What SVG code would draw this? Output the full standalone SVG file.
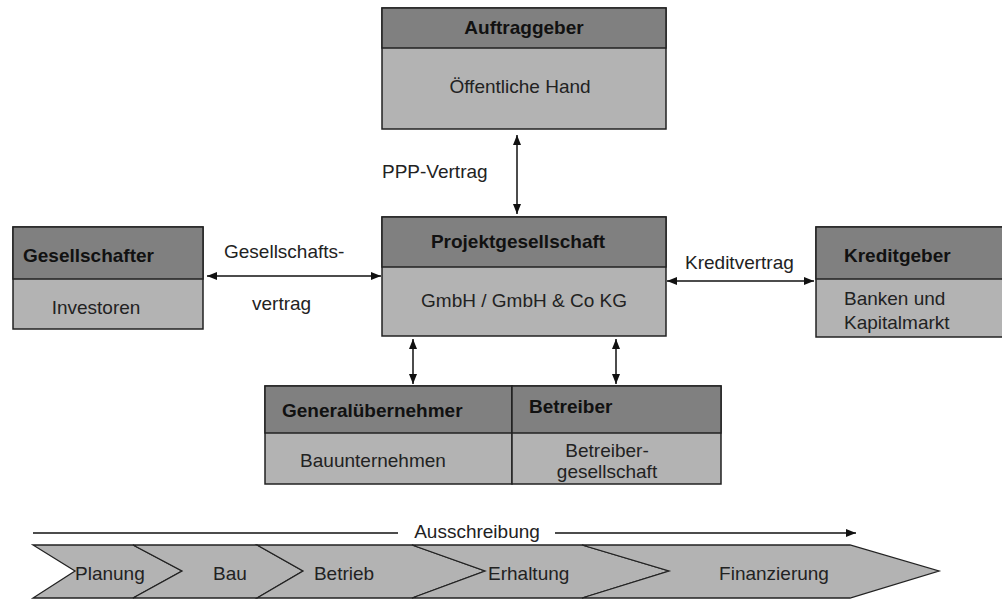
<svg xmlns="http://www.w3.org/2000/svg" width="1002" height="599" viewBox="0 0 1002 599">
<style>
.hd{fill:#808080;stroke:#222;stroke-width:1.5}
.bd{fill:#b3b3b3;stroke:#222;stroke-width:1.5}
.ht{font-family:"Liberation Sans",Arial,sans-serif;font-size:19px;font-weight:bold;fill:#111}
.bt{font-family:"Liberation Sans",Arial,sans-serif;font-size:19px;fill:#222}
.ln{stroke:#111;stroke-width:1.5;fill:none}
.ch{fill:#b3b3b3;stroke:#222;stroke-width:1.3}
</style>
<defs>
<marker id="ah" viewBox="0 0 10 8" refX="10" refY="4" markerWidth="10" markerHeight="8" markerUnits="userSpaceOnUse" orient="auto-start-reverse">
<path d="M0,0 L10,4 L0,8 z" fill="#111"/>
</marker>
</defs>
<rect width="1002" height="599" fill="#fff"/>

<g id="auftraggeber">
<rect class="bd" x="382" y="8" width="284" height="121"/>
<rect class="hd" x="382" y="8" width="284" height="40"/>
<text class="ht" x="524" y="34" text-anchor="middle">Auftraggeber</text>
<text class="bt" x="520" y="93" text-anchor="middle">Öffentliche Hand</text>
</g>

<g id="projektgesellschaft">
<rect class="bd" x="382" y="217" width="284" height="119"/>
<rect class="hd" x="382" y="217" width="284" height="50"/>
<text class="ht" x="518" y="248" text-anchor="middle">Projektgesellschaft</text>
<text class="bt" x="524" y="307" text-anchor="middle">GmbH / GmbH &amp; Co KG</text>
</g>

<g id="gesellschafter">
<rect class="bd" x="13" y="227" width="190" height="102"/>
<rect class="hd" x="13" y="227" width="190" height="52"/>
<text class="ht" x="23" y="262">Gesellschafter</text>
<text class="bt" x="96" y="314" text-anchor="middle">Investoren</text>
</g>

<g id="kreditgeber">
<rect class="bd" x="816" y="227" width="190" height="110"/>
<rect class="hd" x="816" y="227" width="190" height="52"/>
<text class="ht" x="844" y="262">Kreditgeber</text>
<text class="bt" x="844" y="305">Banken und</text>
<text class="bt" x="844" y="329">Kapitalmarkt</text>
</g>

<g id="generaluebernehmer">
<rect class="bd" x="265" y="386" width="247" height="98"/>
<rect class="hd" x="265" y="386" width="247" height="47"/>
<text class="ht" x="282" y="417">Generalübernehmer</text>
<text class="bt" x="373" y="467" text-anchor="middle">Bauunternehmen</text>
</g>

<g id="betreiber">
<rect class="bd" x="512" y="386" width="209" height="98"/>
<rect class="hd" x="512" y="386" width="209" height="47"/>
<text class="ht" x="529" y="413">Betreiber</text>
<text class="bt" x="607" y="457" text-anchor="middle">Betreiber-</text>
<text class="bt" x="607" y="478" text-anchor="middle">gesellschaft</text>
</g>

<g id="connectors">
<line class="ln" x1="517" y1="135" x2="517" y2="214" marker-start="url(#ah)" marker-end="url(#ah)"/>
<text class="bt" x="382" y="178">PPP-Vertrag</text>
<line class="ln" x1="207" y1="276" x2="381" y2="276" marker-start="url(#ah)" marker-end="url(#ah)"/>
<text class="bt" x="224" y="258">Gesellschafts-</text>
<text class="bt" x="252" y="310">vertrag</text>
<line class="ln" x1="667" y1="281" x2="814" y2="281" marker-start="url(#ah)" marker-end="url(#ah)"/>
<text class="bt" x="685" y="269">Kreditvertrag</text>
<line class="ln" x1="413" y1="339" x2="413" y2="384" marker-start="url(#ah)" marker-end="url(#ah)"/>
<line class="ln" x1="616" y1="339" x2="616" y2="384" marker-start="url(#ah)" marker-end="url(#ah)"/>
</g>

<g id="phasen">
<line class="ln" x1="33" y1="533" x2="398" y2="533"/>
<line class="ln" x1="555" y1="533" x2="856" y2="533" marker-end="url(#ah)"/>
<text class="bt" x="477" y="538" text-anchor="middle">Ausschreibung</text>
<polygon class="ch" points="33,545 133,545 182,571 133,598 33,598 75,571"/>
<polygon class="ch" points="133,545 257,545 303,571 257,598 133,598 182,571"/>
<polygon class="ch" points="257,545 412,545 485,571 412,598 257,598 303,571"/>
<polygon class="ch" points="412,545 582,545 669,571 582,598 412,598 485,571"/>
<polygon class="ch" points="582,545 850,545 939,571 850,598 582,598 669,571"/>
<text class="bt" x="75" y="580">Planung</text>
<text class="bt" x="230" y="580" text-anchor="middle">Bau</text>
<text class="bt" x="344" y="580" text-anchor="middle">Betrieb</text>
<text class="bt" x="488" y="580">Erhaltung</text>
<text class="bt" x="774" y="580" text-anchor="middle">Finanzierung</text>
</g>
</svg>
